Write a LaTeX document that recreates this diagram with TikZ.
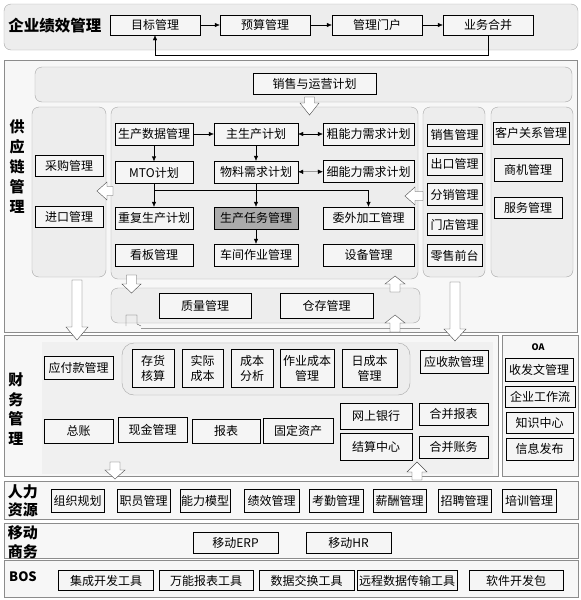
\documentclass[tikz,border=0pt]{standalone}
\usepackage{fontspec}
\setmainfont{Noto Sans CJK SC}
\usetikzlibrary{arrows.meta}
\tikzset{
  panel/.style={draw=black!35, fill=black!7, rounded corners=7pt},
  band/.style={draw=black!45, fill=black!3},
  box/.style={draw, fill=black!4, inner sep=0pt, minimum height=22pt, align=center, font=\fontsize{12}{15}\selectfont},
  sect/.style={inner sep=0pt, align=center, font=\bfseries\fontsize{15}{20}\selectfont},
  link/.style={-{Latex[length=5pt,width=4.5pt]}},
  link2/.style={{Latex[length=5pt,width=4.5pt]}-{Latex[length=5pt,width=4.5pt]}},
  hollow/.style={draw=black!70, fill=white}
}
% hollow arrows: x, tail, tip, head start, half width
\newcommand\vhollow[5]{\draw[hollow] ({#1-5},#2) -- ({#1-5},#4) -- ({#1-#5},#4) -- (#1,#3) -- ({#1+#5},#4) -- ({#1+5},#4) -- ({#1+5},#2) -- cycle;}
\newcommand\hhollow[5]{\draw[hollow] (#2,{#1-4.5}) -- (#4,{#1-4.5}) -- (#4,{#1-#5}) -- (#3,#1) -- (#4,{#1+#5}) -- (#4,{#1+4.5}) -- (#2,{#1+4.5}) -- cycle;}
\begin{document}
\begin{tikzpicture}[x=1pt, y=-1pt]
\useasboundingbox (0,0) rectangle (581,600);

% performance
\draw[panel] (4,4) rectangle (578,50);
\node[sect, font=\bfseries\fontsize{15.5}{18}\selectfont] (kpi) at (55,26) {企业绩效管理};
\node[box, minimum width=90pt, minimum height=20pt] (tgt) at (155,25) {目标管理};
\node[box, minimum width=90pt, minimum height=20pt] (bud) at (265,25) {预算管理};
\node[box, minimum width=90pt, minimum height=20pt] (por) at (377,25) {管理门户};
\node[box, minimum width=90pt, minimum height=20pt] (con) at (488,25) {业务合并};
\draw[link] (tgt) -- (bud);
\draw[link] (bud) -- (por);
\draw[link] (por) -- (con);
\draw[link] (con.south) -- ++(0,20) -| (tgt.south);

% supply chain
\draw[band] (4,60) rectangle (577,332);
\draw[panel] (35,67) rectangle (572,102);
\node[box, minimum width=123pt, minimum height=21pt] (sop) at (314.5,83.5) {销售与运营计划};
\node[sect] (scm) at (17,167) {供\\应\\链\\管\\理};
\draw[panel] (32,107) rectangle (106,277);
\draw[panel] (111,107) rectangle (418,279);
\draw[panel] (423,107) rectangle (485,277);
\draw[panel] (491,107) rectangle (573,277);
\draw[panel] (111,288) rectangle (420,323);
\draw[black!40] (141,328) -- (420,328);

\node[box, minimum width=68pt, minimum height=21pt] (buy) at (69,165.5) {采购管理};
\node[box, minimum width=68pt, minimum height=21pt] (imp) at (69,217) {进口管理};

\node[box, minimum width=78pt] (pdm) at (154,134) {生产数据管理};
\node[box, minimum width=84pt] (mps) at (256,134) {主生产计划};
\node[box, minimum width=91pt] (rccp) at (368.5,134) {粗能力需求计划};
\node[box, minimum width=78pt] (mto) at (154,172.5) {MTO计划};
\node[box, minimum width=84pt] (mrp) at (256,172) {物料需求计划};
\node[box, minimum width=91pt] (crp) at (368.5,171.5) {细能力需求计划};
\node[box, minimum width=78pt] (rep) at (154,218) {重复生产计划};
\node[box, minimum width=84pt, fill=black!33] (task) at (256,218) {生产任务管理};
\node[box, minimum width=91pt] (sub) at (368.5,218) {委外加工管理};
\node[box, minimum width=78pt] (kb) at (154,255) {看板管理};
\node[box, minimum width=84pt] (shop) at (256,255) {车间作业管理};
\node[box, minimum width=91pt] (eq) at (368.5,255) {设备管理};
\draw[link] (pdm) -- (mps);
\draw[link] (pdm) -- (mto);
\draw[link] (mps) -- (mrp);
\draw[link2] (mps) -- (rccp);
\draw[link2] (mrp) -- (crp);
\coordinate (bus) at (0,190);
\draw (mto) -- (mto |- bus) -- (sub |- bus);
\draw[link] (mto |- bus) -- (rep);
\draw[link] (sub |- bus) -- (sub);
\draw[link] (mrp) -- (task);
\draw[link] (task) -- (shop);

\node[box, minimum width=55pt] (sm) at (454.5,135) {销售管理};
\node[box, minimum width=55pt] (exp) at (454.5,164) {出口管理};
\node[box, minimum width=55pt] (dist) at (454.5,194.5) {分销管理};
\node[box, minimum width=55pt] (store) at (454.5,224.5) {门店管理};
\node[box, minimum width=55pt] (pos) at (454.5,255.5) {零售前台};

\node[box, minimum width=76pt] (crm) at (531,133) {客户关系管理};
\node[box, minimum width=68pt, minimum height=23pt] (opp) at (528,169.5) {商机管理};
\node[box, minimum width=68pt, minimum height=21pt] (svc) at (528,207.5) {服务管理};

\node[box, minimum width=92pt, minimum height=25pt] (qm) at (205,305.5) {质量管理};
\node[box, minimum width=93pt, minimum height=25pt] (wh) at (326.5,305.5) {仓存管理};

\vhollow{309.5}{97}{115}{103}{9.5}
\hhollow{191}{113}{97}{107}{9}
\hhollow{196}{423}{405}{415}{9}
\vhollow{131.5}{275}{293}{284}{9.5}
\vhollow{395}{292}{276}{284}{10}
\vhollow{395}{332}{315}{323}{10}
\draw[black!70] (126,326) -- (126,315) -- (137,315) -- (137,324) -- (141,326);

% finance
\draw[band] (4,335) rectangle (498,476);
\fill[black!6] (42,342) rectangle (493,474);
\draw[band] (502,335) rectangle (578,476);
\draw[panel, rounded corners=12pt] (122,343) rectangle (410,395);
\node[sect, font=\bfseries\fontsize{15}{19.5}\selectfont] (fin) at (16,409) {财\\务\\管\\理};
\vhollow{77}{280}{340}{327}{11}
\vhollow{455}{282}{341}{329}{11}

\node[box, minimum width=69pt, minimum height=23pt] (ap) at (78.5,367.5) {应付款管理};
\node[box, minimum width=42pt, minimum height=38pt] (inv) at (153,368) {存货\\核算};
\node[box, minimum width=41pt, minimum height=38pt] (act) at (202.5,368) {实际\\成本};
\node[box, minimum width=42pt, minimum height=38pt] (ana) at (252,368) {成本\\分析};
\node[box, minimum width=54pt, minimum height=38pt] (abc) at (307,368) {作业成本\\管理};
\node[box, minimum width=55pt, minimum height=38pt] (day) at (369.5,368) {日成本\\管理};
\node[box, minimum width=68pt, minimum height=23pt] (ar) at (454,361.5) {应收款管理};
\node[box, minimum width=69pt, minimum height=24pt] (gl) at (78.5,431) {总账};
\node[box, minimum width=69pt, minimum height=25pt] (cash) at (152.5,429.5) {现金管理};
\node[box, minimum width=68pt, minimum height=24pt] (rpt) at (226,431) {报表};
\node[box, minimum width=70pt, minimum height=25pt] (fa) at (298,430.5) {固定资产};
\node[box, minimum width=72pt, minimum height=26pt] (bank) at (376,416) {网上银行};
\node[box, minimum width=72pt, minimum height=27pt] (settle) at (376,446.5) {结算中心};
\node[box, minimum width=69pt] (crpt) at (453.5,414) {合并报表};
\node[box, minimum width=69pt] (cacc) at (453.5,447) {合并账务};

\node[inner sep=0pt, font=\bfseries\fontsize{9}{10}\selectfont] (oa) at (538,347) {OA};
\node[box, minimum width=68pt, minimum height=23pt] (doc) at (539,369.5) {收发文管理};
\node[box, minimum width=70pt, minimum height=21pt] (wf) at (540,396.5) {企业工作流};
\node[box, minimum width=67pt, minimum height=21pt] (km) at (539.5,422.5) {知识中心};
\node[box, minimum width=67pt, minimum height=22pt] (pub) at (539.5,449) {信息发布};

% hr, mobile, bos
\draw[band] (4,481) rectangle (578,519);
\draw[band] (4,523) rectangle (578,558);
\draw[band] (4,560) rectangle (578,597);
\vhollow{115}{462}{479}{470}{10}
\vhollow{417}{480}{462}{472}{10}

\node[sect, font=\bfseries\fontsize{15}{18}\selectfont] (hr) at (23,501) {人力\\资源};
\node[box, minimum width=53pt, minimum height=23pt] (org) at (77.5,500.5) {组织规划};
\node[box, minimum width=53pt, minimum height=23pt] (emp) at (143.5,500.5) {职员管理};
\node[box, minimum width=50pt, minimum height=23pt] (cap) at (205,500.5) {能力模型};
\node[box, minimum width=55pt, minimum height=23pt] (perf) at (271.5,500.5) {绩效管理};
\node[box, minimum width=54pt, minimum height=23pt] (att) at (336,500.5) {考勤管理};
\node[box, minimum width=53pt, minimum height=23pt] (pay) at (399.5,500.5) {薪酬管理};
\node[box, minimum width=53pt, minimum height=23pt] (hire) at (464.5,500.5) {招聘管理};
\node[box, minimum width=54pt, minimum height=23pt] (trn) at (529,500.5) {培训管理};

\node[sect, font=\bfseries\fontsize{15}{19}\selectfont] (mob) at (23,542.5) {移动\\商务};
\node[box, minimum width=85pt, minimum height=21pt] (merp) at (235.5,542.5) {移动ERP};
\node[box, minimum width=85pt, minimum height=21pt] (mhr) at (348.5,542.5) {移动HR};

\node[sect, font=\bfseries\fontsize{13}{15}\selectfont] (bos) at (23,577) {BOS};
\node[box, minimum width=95pt, minimum height=20pt] (ide) at (106,580.5) {集成开发工具};
\node[box, minimum width=94pt, minimum height=20pt] (rtool) at (206,580.5) {万能报表工具};
\node[box, minimum width=95pt, minimum height=20pt] (dx) at (306.5,580.5) {数据交换工具};
\node[box, minimum width=100pt, minimum height=20pt] (rdt) at (407,580.5) {远程数据传输工具};
\node[box, minimum width=94pt, minimum height=20pt] (sdk) at (516,580.5) {软件开发包};
\end{tikzpicture}
\end{document}
